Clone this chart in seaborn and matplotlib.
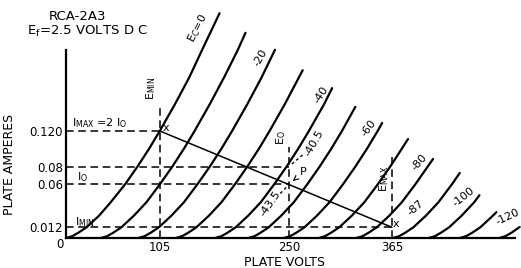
import matplotlib
matplotlib.use("Agg")
import matplotlib.pyplot as plt
import seaborn as sns

# plate current levels shared by the curves (amperes)
amps_grid = [0, 0.002, 0.006, 0.012, 0.025, 0.04, 0.06, 0.08, 0.10, 0.12, 0.15, 0.18, 0.21, 0.25]

# grid bias of each curve and plate volts read along the grid, last value = curve tip
grid_bias = [0, -10, -20, -30, -40, -50, -60, -70, -80, -90, -100, -110, -120]
curve_volts = [
    [0, 7, 14, 23, 37, 50, 66, 80, 93, 105, 122, 138, 152, 171, 172],
    [39, 46, 53, 62, 76, 90, 105, 119, 132, 144, 161, 177, 192, 201],
    [81, 88, 95, 104, 118, 132, 147, 161, 174, 186, 203, 219, 234],
    [123, 130, 137, 146, 160, 174, 189, 203, 216, 228, 245, 265],
    [167, 174, 181, 190, 204, 218, 233, 247, 260, 272, 289, 298],
    [204, 211, 218, 227, 241, 255, 270, 284, 297, 309, 324],
    [244, 251, 258, 267, 281, 295, 310, 324, 337, 349, 354],
    [283, 290, 297, 306, 320, 334, 349, 363, 376, 383],
    [325, 332, 339, 348, 362, 376, 391, 405, 411],
    [366, 373, 380, 389, 403, 417, 432, 441],
    [406, 413, 420, 429, 443, 457, 463],
    [441, 448, 455, 464, 478, 482],
    [485, 492, 499, 508],
]
tip_amps = [0.252, 0.230, 0.211, 0.188, 0.168, 0.147, 0.129, 0.111, 0.0886, 0.073, 0.048, 0.029, 0.0123]

# operating values
e_min, e_0, e_max = 105, 250, 365
i_max, i_q2, i_0, i_min = 0.120, 0.08, 0.06, 0.012
load_volts = [105, 365]
load_amps = [0.120, 0.012]

sns.set_style("white")
plt.rcParams["font.family"] = ["DejaVu Sans"]
plt.rcParams["mathtext.default"] = "regular"
plt.rcParams["text.color"] = "black"
plt.rcParams["xtick.color"] = "black"
plt.rcParams["ytick.color"] = "black"

fig = plt.figure(figsize=(5.21, 2.68), dpi=100)
ax = fig.add_axes([66 / 521, 30 / 268, 455 / 521, 228 / 268])

for volts, tip in zip(curve_volts, tip_amps):
    a = amps_grid[:len(volts) - 1] + [tip]
    sns.lineplot(x=volts, y=a, color="black", linewidth=1.6, sort=False,
                 estimator=None, ax=ax, clip_on=False)

# load line
sns.lineplot(x=load_volts, y=load_amps, color="black", linewidth=1.1, sort=False,
             estimator=None, ax=ax)

# dashed construction lines
dash = dict(color="black", linewidth=1.1, dashes=(5, 3))
ax.plot([0, e_min], [i_max, i_max], **dash)
ax.plot([0, e_0], [i_q2, i_q2], **dash)
ax.plot([0, e_0], [i_0, i_0], **dash)
ax.plot([0, e_max], [i_min, i_min], **dash)
ax.plot([e_min, e_min], [0, 0.150], **dash)
ax.plot([e_0, e_0], [0, 0.102], **dash)
ax.plot([e_max, e_max], [0, 0.091], **dash)
ax.plot([253, 266], [0.083, 0.094], color="black", linewidth=1.0, dashes=(2, 2))
ax.plot([240, 248], [0.050, 0.058], color="black", linewidth=1.0, dashes=(2, 2))

ax.set_xlim(0, 509.5)
ax.set_ylim(0, 0.2556)
ax.spines["left"].set_bounds(0, 0.211)
ax.spines["bottom"].set_bounds(0, 503)
for s in ["top", "right"]:
    ax.spines[s].set_visible(False)
for s in ["left", "bottom"]:
    ax.spines[s].set_linewidth(1.6)
    ax.spines[s].set_color("black")

ax.set_xticks([e_min, e_0, e_max])
ax.set_xticklabels(["105", "250", "365"])
ax.set_yticks([i_min, i_0, i_q2, i_max])
ax.set_yticklabels(["0.012", "0.06", "0.08", "0.120"])
ax.tick_params(length=0, labelsize=8.5)
ax.tick_params(axis="x", pad=2.5)
ax.tick_params(axis="y", pad=2)
ax.text(-7, -0.0068, "0", fontsize=8.5, ha="center", va="center")

# curve labels
lab = dict(fontsize=8, ha="center", va="center", rotation_mode="anchor")
ax.text(148, 0.235, "E$_C$=0", rotation=63, **lab)
ax.text(218, 0.202, "-20", rotation=60, **lab)
ax.text(286, 0.160, "-40", rotation=56, **lab)
ax.text(339, 0.123, "-60", rotation=52, **lab)
ax.text(396, 0.085, "-80", rotation=48, **lab)
ax.text(445, 0.046, "-100", rotation=38, **lab)
ax.text(494, 0.0235, "-120", rotation=25, **lab)
ax.text(278, 0.107, "-40.5", rotation=60, **lab)
ax.text(229, 0.039, "-43.5", rotation=55, **lab)
ax.text(391, 0.034, "-87", rotation=40, **lab)

ax.text(112, 0.123, "x", fontsize=8, ha="center", va="center")
ax.text(369, 0.016, "x", fontsize=8, ha="center", va="center")
ax.annotate("P", xy=(253, 0.063), xytext=(266, 0.074), fontsize=8, ha="center", va="center",
            arrowprops=dict(arrowstyle="->", color="black", lw=0.8, shrinkA=3, shrinkB=1))

ax.text(7, 0.129, "I$_{MAX}$ =2 I$_O$", fontsize=8, ha="left", va="center")
ax.text(12, 0.068, "I$_O$", fontsize=8, ha="left", va="center")
ax.text(10, 0.018, "I$_{MIN}$", fontsize=8, ha="left", va="center")
ax.text(95, 0.168, "E$_{MIN}$", fontsize=8, rotation=90, ha="center", va="center")
ax.text(241, 0.113, "E$_O$", fontsize=8, rotation=90, ha="center", va="center")
ax.text(356, 0.066, "E$_{MAX}$", fontsize=8, rotation=90, ha="center", va="center")

fig.text(78 / 521, 1 - 16 / 268, "RCA-2A3", fontsize=9.5, ha="center", va="center")
fig.text(88 / 521, 1 - 31 / 268, "E$_f$=2.5 VOLTS D C", fontsize=9.5, ha="center", va="center")
fig.text(10 / 521, 1 - 164 / 268, "PLATE AMPERES", fontsize=9, rotation=90, ha="center", va="center")
fig.text(284 / 521, 1 - 262 / 268, "PLATE VOLTS", fontsize=9, ha="center", va="center")

fig.savefig("out.png", dpi=100)
